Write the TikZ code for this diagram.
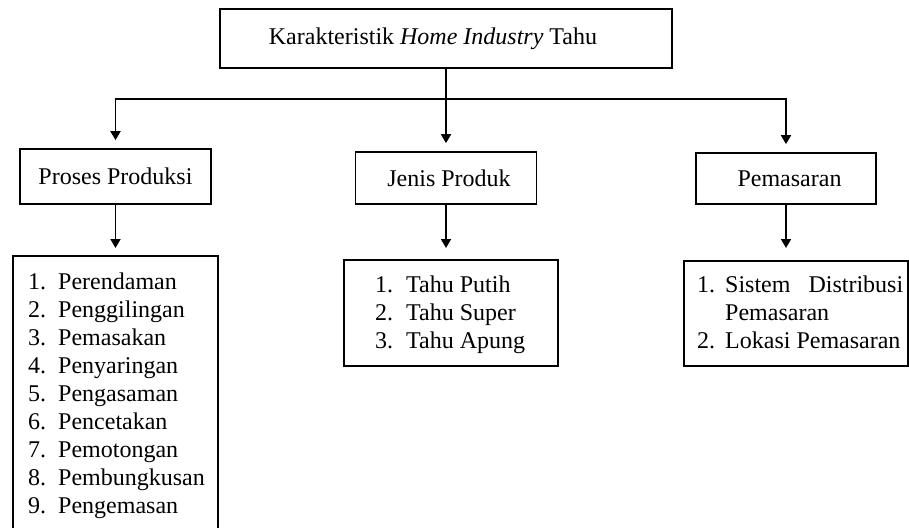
\documentclass[tikz,border=0pt]{standalone}
\usepackage{fontspec}
\setmainfont{Liberation Serif}
\usetikzlibrary{arrows.meta}
\begin{document}
\begin{tikzpicture}[x=1pt,y=-1pt,
  box/.style={draw, line width=1.7pt, inner sep=0pt, font=\fontsize{24}{28}\selectfont},
  line/.style={line width=1.8pt},
  arr/.style={line width=1.8pt, -{Triangle[width=10pt,length=9pt]}, shorten >=#1},
  arr/.default=8pt,
  listtext/.style={inner sep=0pt, anchor=north west, font=\fontsize{24}{28}\selectfont}]
\useasboundingbox (0,0) rectangle (909,527);
\clip (0,0) rectangle (909,527);
\fill[white] (0,0) rectangle (909,527);

% top level boxes
\node[box, minimum width=452pt, minimum height=59pt] (top) at (446,38.5) {Karakteristik \textit{Home Industry} Tahu\kern26pt\relax};
\node[box, minimum width=191pt, minimum height=55pt] (pro) at (115.5,176.5) {Proses Produksi};
\node[box, minimum width=181pt, minimum height=52pt] (jen) at (446,178) {\hspace{6pt}Jenis Produk};
\node[box, minimum width=180pt, minimum height=51pt] (pem) at (786,178.5) {\hspace{7pt}Pemasaran};

% connectors from the title
\coordinate (hl) at (446,99);
\draw[line] (top.south) -- (hl);
\draw[arr] (hl) -| (pro.north);
\draw[arr] (hl) -- (jen.north);
\draw[arr] (hl) -| (pem.north);

% list boxes
\node[box, minimum width=205pt, minimum height=290pt, anchor=north west] (plist) at (12,255) {};
\node[box, minimum width=214pt, minimum height=106pt, anchor=north west] (jlist) at (343,259) {};
\node[box, minimum width=224pt, minimum height=105pt, anchor=north west] (mlist) at (683,260) {};

% list texts
\node[listtext] (ptext) at (28,269.4) {\begin{tabular}{@{}l@{}}
\makebox[30pt][l]{1.}Perendaman\\
\makebox[30pt][l]{2.}Penggilingan\\
\makebox[30pt][l]{3.}Pemasakan\\
\makebox[30pt][l]{4.}Penyaringan\\
\makebox[30pt][l]{5.}Pengasaman\\
\makebox[30pt][l]{6.}Pencetakan\\
\makebox[30pt][l]{7.}Pemotongan\\
\makebox[30pt][l]{8.}Pembungkusan\\
\makebox[30pt][l]{9.}Pengemasan
\end{tabular}};
\node[listtext] (jtext) at (375,272.4) {\begin{tabular}{@{}l@{}}
\makebox[31pt][l]{1.}Tahu Putih\\
\makebox[31pt][l]{2.}Tahu Super\\
\makebox[31pt][l]{3.}Tahu Apung
\end{tabular}};
\node[listtext] (mtext) at (697,272.4) {\begin{tabular}{@{}l@{}}
\makebox[28pt][l]{1.}\makebox[178pt][s]{Sistem\hfill Distribusi}\\
\makebox[28pt][l]{}Pemasaran\\
\makebox[28pt][l]{2.}Lokasi Pemasaran
\end{tabular}};

% connectors to lists
\draw[arr=7pt] (pro.south) -- (pro.south |- plist.north);
\draw[arr=11pt] (jen.south) -- (jen.south |- jlist.north);
\draw[arr=12pt] (pem.south) -- (pem.south |- mlist.north);
\end{tikzpicture}
\end{document}
